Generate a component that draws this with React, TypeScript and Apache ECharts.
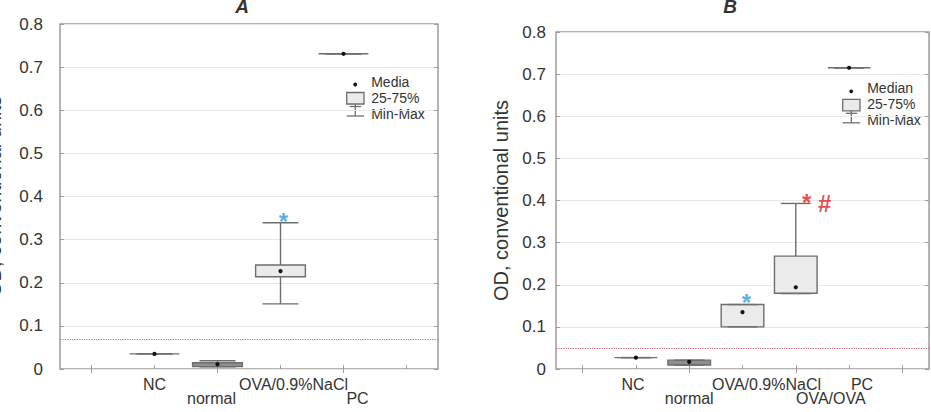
import React, { useEffect, useRef } from 'react';
import * as echarts from 'echarts';

// ---------- data ----------
const categoriesA = ['', 'NC', 'normal', 'OVA/0.9%NaCl', 'PC', ''];
const categoriesB = ['', 'NC', 'normal', 'OVA/0.9%NaCl', 'OVA/OVA', 'PC', ''];

// [category index, min, q1, median, q3, max]
const boxesA = [
  [1, 0.035, 0.035, 0.035, 0.035, 0.035],
  [2, 0.005, 0.0055, 0.011, 0.0145, 0.019],
  [3, 0.151, 0.214, 0.227, 0.241, 0.339],
  [4, 0.731, 0.731, 0.731, 0.731, 0.731],
];
const boxesB = [
  [1, 0.027, 0.027, 0.027, 0.027, 0.027],
  [2, 0.009, 0.0095, 0.017, 0.021, 0.021],
  [3, 0.1, 0.1, 0.135, 0.153, 0.153],
  [4, 0.179, 0.18, 0.194, 0.268, 0.393],
  [5, 0.715, 0.715, 0.715, 0.715, 0.715],
];
const cutoffA = 0.068;
const cutoffB = 0.053;
const yMin = 0;
const yMax = 0.8;
const yStep = 0.1;

const blueStarsA = [[3, 0.355]];
const blueStarsB = [[3, 0.173]];
const redStarsB = [[4, 0.409]];
const hashesB = [[4, 0.393]];

// ---------- style ----------
const FONT = 'Liberation Sans, Arial, sans-serif';
const TEXT = '#333333';
const BORDER = '#9c9c9c';
const BOX_STROKE = '#6e6e6e';
const BOX_FILL = '#ebebeb';
const THIN_BOX_FILL = '#8e8e8e';
const BLUE = '#2f9ad6';
const RED = '#e02020';
const CUTOFF = '#e0606e';

// x-label layout: [row, horizontal shift px]
const labelLayoutA: Record<string, [number, number]> = {
  NC: [0, 0],
  normal: [1, -6],
  'OVA/0.9%NaCl': [0, 13],
  PC: [1, 14],
};
const labelLayoutB: Record<string, [number, number]> = {
  NC: [0, -3],
  normal: [1, 0],
  'OVA/0.9%NaCl': [0, 24],
  'OVA/OVA': [1, 35],
  PC: [0, 13],
};

function makeRender(boxRatio: number, capRatio: number) {
  return (_params: any, api: any) => {
    const idx = api.value(0);
    const pMin = api.coord([idx, api.value(1)]);
    const pQ1 = api.coord([idx, api.value(2)]);
    const pMed = api.coord([idx, api.value(3)]);
    const pQ3 = api.coord([idx, api.value(4)]);
    const pMax = api.coord([idx, api.value(5)]);
    const band = api.size([1, 0])[0];
    const bw = band * boxRatio;
    const cw = band * capRatio;
    const cx = pMed[0];
    const ls = { stroke: BOX_STROKE, lineWidth: 1.4 };
    const children: any[] = [];
    children.push({ type: 'line', shape: { x1: cx, y1: pQ3[1], x2: cx, y2: pMax[1] }, style: ls });
    children.push({ type: 'line', shape: { x1: cx, y1: pQ1[1], x2: cx, y2: pMin[1] }, style: ls });
    const h = pQ1[1] - pQ3[1];
    if (h > 0.5) {
      children.push({
        type: 'rect',
        shape: { x: cx - bw / 2, y: pQ3[1], width: bw, height: h },
        style: { fill: h < 8 ? THIN_BOX_FILL : BOX_FILL, stroke: BOX_STROKE, lineWidth: 1.4 },
      });
    } else {
      children.push({ type: 'line', shape: { x1: cx - bw / 2, y1: pQ3[1], x2: cx + bw / 2, y2: pQ3[1] }, style: ls });
    }
    children.push({ type: 'line', shape: { x1: cx - cw / 2, y1: pMax[1], x2: cx + cw / 2, y2: pMax[1] }, style: ls });
    children.push({ type: 'line', shape: { x1: cx - cw / 2, y1: pMin[1], x2: cx + cw / 2, y2: pMin[1] }, style: ls });
    children.push({ type: 'circle', shape: { cx, cy: pMed[1], r: 2.1 }, style: { fill: '#111' } });
    return { type: 'group', children };
  };
}

function xLabel(cats: string[], layout: Record<string, [number, number]>) {
  const rich: Record<string, any> = {};
  cats.forEach((c, i) => {
    const l = layout[c] || [0, 0];
    const shift = l[1];
    rich['k' + i] = {
      fontSize: 16,
      lineHeight: 13.5,
      color: TEXT,
      fontFamily: FONT,
      padding: [0, shift < 0 ? -2 * shift : 0, 0, shift > 0 ? 2 * shift : 0],
    };
  });
  return {
    interval: 0,
    margin: 9,
    fontSize: 16,
    lineHeight: 13.5,
    color: TEXT,
    fontFamily: FONT,
    formatter: (v: string, i: number) => {
      if (!v) return '';
      const l = layout[v] || [0, 0];
      return (l[0] ? '\n' : '') + `{k${i}|${v}}`;
    },
    rich,
  };
}

function xAxes(grid: number, cats: string[], layout: Record<string, [number, number]>) {
  const tick = { show: true, inside: true, alignWithLabel: true, length: 4, lineStyle: { color: BORDER } };
  return [
    {
      type: 'category', gridIndex: grid, data: cats, position: 'bottom', boundaryGap: true,
      axisLine: { show: false }, axisTick: tick, splitLine: { show: false },
      axisLabel: xLabel(cats, layout),
    },
    {
      type: 'category', gridIndex: grid, data: cats, position: 'top', boundaryGap: true,
      axisLine: { show: false }, axisTick: tick, splitLine: { show: false },
      axisLabel: { show: false },
    },
  ];
}

function yAxes(grid: number, nameGap: number, labelMargin: number) {
  const tick = { show: true, inside: true, length: 4, lineStyle: { color: BORDER } };
  return [
    {
      type: 'value', gridIndex: grid, min: yMin, max: yMax, interval: yStep, position: 'left',
      name: 'OD, conventional units', nameLocation: 'middle', nameGap, nameRotate: 90,
      nameTextStyle: { fontSize: 20, color: TEXT, fontFamily: FONT },
      axisLine: { show: false }, axisTick: tick,
      splitLine: { show: true, lineStyle: { color: '#e8e8e8', width: 1 } },
      axisLabel: {
        margin: labelMargin, fontSize: 17, color: TEXT, fontFamily: FONT,
        formatter: (v: number) => (v === 0 ? '0' : v.toFixed(1)),
      },
    },
    {
      type: 'value', gridIndex: grid, min: yMin, max: yMax, interval: yStep, position: 'right',
      axisLine: { show: false }, axisTick: tick, splitLine: { show: false }, axisLabel: { show: false },
    },
  ];
}

function annot(xi: number, yi: number, data: number[][], text: string, color: string, size: number, offset: number[]) {
  return {
    type: 'scatter', xAxisIndex: xi, yAxisIndex: yi, data, symbolSize: 0, silent: true,
    label: {
      show: true, position: 'inside', formatter: text, color, fontSize: size, fontWeight: 'bold',
      fontFamily: FONT, offset,
    },
  };
}

function legend(x: number, y: number, medianText: string) {
  const ls = { stroke: BOX_STROKE, lineWidth: 1.3 };
  const ts = (t: string, dy: number) => ({
    type: 'text', x: 24.5, y: dy,
    style: { text: t, fill: TEXT, font: `14px ${FONT}`, textAlign: 'left', textVerticalAlign: 'middle' },
  });
  return {
    type: 'group', x, y,
    children: [
      { type: 'circle', shape: { cx: 8.5, cy: -8, r: 1.9 }, style: { fill: '#111' } },
      { type: 'rect', shape: { x: 0, y: 0, width: 17.3, height: 11.5 }, style: { fill: BOX_FILL, stroke: BOX_STROKE, lineWidth: 1.3 } },
      { type: 'line', shape: { x1: 3, y1: 14, x2: 14.5, y2: 14 }, style: ls },
      { type: 'line', shape: { x1: 8.6, y1: 11.5, x2: 8.6, y2: 23.5 }, style: ls },
      { type: 'line', shape: { x1: 0, y1: 23.5, x2: 17.3, y2: 23.5 }, style: ls },
      ts(medianText, -11),
      ts('25-75%', 5),
      ts('Min-Max', 21),
    ],
  };
}

function title(x: number, t: string) {
  return {
    type: 'text', x, y: -3,
    style: { text: t, fill: TEXT, font: `italic bold 19px ${FONT}`, textAlign: 'center', textVerticalAlign: 'top' },
  };
}

const cutoffLine = (v: number) => ({
  silent: true, symbol: 'none', label: { show: false },
  lineStyle: { color: CUTOFF, type: 'dotted', width: 1.2 },
  data: [{ yAxis: v }],
});

export default function App() {
  const ref = useRef<HTMLDivElement>(null);
  useEffect(() => {
    document.body.style.margin = '0';
    if (!ref.current) return;
    const chart = echarts.init(ref.current, undefined, { renderer: 'svg' });
    const gridStyle = {
      show: true, borderColor: BORDER, borderWidth: 1.5, backgroundColor: 'transparent',
      containLabel: false, outerBoundsMode: 'none',
    };
    chart.setOption({
      animation: false,
      backgroundColor: '#ffffff',
      textStyle: { fontFamily: FONT },
      grid: [
        { left: 60, top: 24, width: 378, height: 345, ...gridStyle },
        { left: 556, top: 32, width: 373, height: 337, ...gridStyle },
      ],
      xAxis: [...xAxes(0, categoriesA, labelLayoutA), ...xAxes(1, categoriesB, labelLayoutB)],
      yAxis: [...yAxes(0, 56, 17), ...yAxes(1, 45, 10)],
      series: [
        {
          type: 'custom', xAxisIndex: 0, yAxisIndex: 0, data: boxesA,
          encode: { x: 0, y: [1, 2, 3, 4, 5] }, renderItem: makeRender(0.79, 0.57),
          markLine: cutoffLine(cutoffA),
        },
        {
          type: 'custom', xAxisIndex: 2, yAxisIndex: 2, data: boxesB,
          encode: { x: 0, y: [1, 2, 3, 4, 5] }, renderItem: makeRender(0.8, 0.56),
          markLine: cutoffLine(cutoffB),
        },
        annot(0, 0, blueStarsA, '*', BLUE, 24, [3, 6]),
        annot(2, 2, blueStarsB, '*', BLUE, 24, [4, 6]),
        annot(2, 2, redStarsB, '*', RED, 24, [11, 6]),
        annot(2, 2, hashesB, '#', RED, 24, [29, 0]),
      ],
      graphic: [
        title(242, 'A'),
        title(730, 'B'),
        legend(346.7, 92.5, 'Media'),
        legend(842.7, 99.3, 'Median'),
      ],
    });
    return () => chart.dispose();
  }, []);
  return <div ref={ref} style={{ width: 931, height: 412 }} />;
}
